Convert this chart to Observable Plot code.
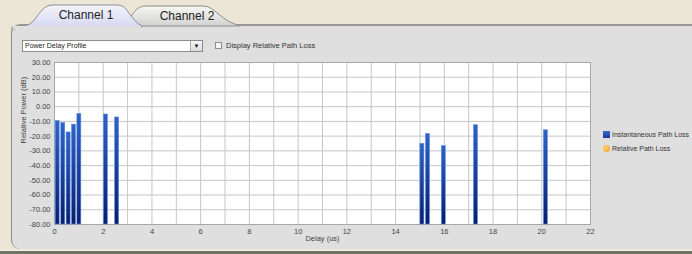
<!DOCTYPE html>
<html>
<head>
<meta charset="utf-8">
<script src="https://cdn.jsdelivr.net/npm/d3@7"></script>
<script src="https://cdn.jsdelivr.net/npm/@observablehq/plot@0.6"></script>
<style>
  html, body { margin: 0; padding: 0; }
  body { width: 692px; height: 254px; overflow: hidden; background: #ece6d6; font-family: Arial, "Liberation Sans", sans-serif; position: relative; }
  .abs { position: absolute; }
  #panel { left: 11px; top: 24px; width: 690px; height: 225px; background: #dfdfdf; border-top: 2px solid #9a9890; border-left: 1px solid #8c8c84; border-radius: 9px 0 0 9px; box-sizing: border-box; }
  #bottom { left: 0; top: 250px; width: 692px; height: 4px; background: #6e7562; border-top: 1px solid #f2f2ea; }
  #dd { left: 22px; top: 40px; width: 181px; height: 12px; background: #fff; border: 1px solid #8c8c8c; box-sizing: border-box; font-size: 7px; color: #222; line-height: 10px; padding-left: 2px; }
  #ddbtn { right: 0; top: 0; width: 11px; height: 10px; background: linear-gradient(#f6f6f6, #dcdcdc); border-left: 1px solid #aaa; font-size: 6px; text-align: center; line-height: 10px; color: #111; }
  #cb { left: 215px; top: 42px; width: 7px; height: 7px; border: 1px solid #8c8c8c; background: #f4f4f4; box-sizing: border-box; }
  #cbl { left: 226px; top: 40px; font-size: 7.5px; color: #333; line-height: 11px; }
  #chart { left: 0; top: 55px; }
  .leg { font-size: 7px; color: #333; line-height: 9px; }
</style>
</head>
<body>
<div id="panel" class="abs"></div>
<svg class="abs" style="left:0;top:0" width="260" height="30">
  <defs>
    <linearGradient id="t1" x1="0" y1="0" x2="0" y2="1"><stop offset="0" stop-color="#f4f4fc"/><stop offset="1" stop-color="#cdd0ee"/></linearGradient>
    <linearGradient id="t2" x1="0" y1="0" x2="0" y2="1"><stop offset="0" stop-color="#f6f6f4"/><stop offset="1" stop-color="#d2d2d0"/></linearGradient>
  </defs>
  <path d="M126,26 C132,14 136,6 146,6 L204,6 C214,6 222,22 240,25.5 L240,26 Z" fill="url(#t2)" stroke="#8c8c88" stroke-width="1"/>
  <path d="M12,33 C14,27 20,26 26,25.5 C36,24 40,5 52,5 L118,5 C128,5 130,20 142,26 L142,27 L12,27 Z" fill="url(#t1)" stroke="#8c8c98" stroke-width="1"/>
  <rect x="13" y="26" width="128" height="3" fill="#dfdfdf"/>
  <text x="86" y="19" text-anchor="middle" font-size="12" fill="#222" font-family="Arial, Liberation Sans, sans-serif">Channel 1</text>
  <text x="187" y="20" text-anchor="middle" font-size="12" fill="#222" font-family="Arial, Liberation Sans, sans-serif">Channel 2</text>
</svg>
<div id="dd" class="abs">Power Delay Profile<div id="ddbtn" class="abs">&#9660;</div></div>
<div id="cb" class="abs"></div>
<div id="cbl" class="abs">Display Relative Path Loss</div>
<div id="chart" class="abs"></div>
<div class="abs" style="left:603px;top:131px;width:7px;height:7px;background:linear-gradient(#3a6ad0,#1a3c9a);"></div>
<div class="abs leg" style="left:612px;top:130px;">Instantaneous Path Loss</div>
<div class="abs" style="left:603px;top:145px;width:7px;height:7px;border-radius:50%;background:radial-gradient(circle at 40% 40%,#ffd070,#f0a020);"></div>
<div class="abs leg" style="left:612px;top:144px;">Relative Path Loss</div>
<div id="bottom" class="abs"></div>
<script>
// Data
const delays = [0.13, 0.36, 0.58, 0.80, 1.02, 2.11, 2.57, 15.10, 15.33, 15.98, 17.30, 20.17];
const powers = [-9.7, -11.1, -17.5, -12.2, -4.9, -5.3, -7.3, -25.2, -18.5, -26.8, -12.6, -16.0];
const xTicks = [0, 2, 4, 6, 8, 10, 12, 14, 16, 18, 20, 22];
const xGrid = d3.range(0, 23);
const yTicks = [30, 20, 10, 0, -10, -20, -30, -40, -50, -60, -70, -80];
const xLabel = "Delay (us)";
const yLabel = "Relative Power (dB)";
const floor = -80;
const halfWidth = 0.082;

const data = delays.map((d, i) => ({delay: d, power: powers[i]}));

const chart = Plot.plot({
  width: 600,
  height: 190,
  marginLeft: 54,
  marginRight: 10,
  marginTop: 7,
  marginBottom: 21,
  style: {fontFamily: "Arial, 'Liberation Sans', sans-serif", fontSize: "7.5px", color: "#444", background: "transparent"},
  x: {domain: [0, 22], ticks: xTicks, tickSize: 0, tickPadding: 4, label: null, tickFormat: d => String(d)},
  y: {domain: [-80, 30], ticks: yTicks, tickSize: 0, tickPadding: 4, label: null, tickFormat: d => d.toFixed(2).replace("-", "-")},
  marks: [
    Plot.frame({fill: "#ffffff", stroke: "none"}),
    Plot.ruleX(xGrid, {stroke: "#c6c6c6", strokeWidth: 1}),
    Plot.ruleY(yTicks, {stroke: "#c6c6c6", strokeWidth: 1}),
    Plot.frame({stroke: "#a8a8a8"}),
    Plot.rectY(data, {x1: d => d.delay - halfWidth, x2: d => d.delay + halfWidth, y1: floor, y2: "power", fill: "url(#barGrad)", stroke: "#5b90e0", strokeWidth: 0.6, inset: 0}),
    Plot.text([xLabel], {frameAnchor: "bottom", dy: 16, fontSize: 7.5, fill: "#444"}),
    Plot.text([yLabel], {frameAnchor: "left", dx: -31, rotate: -90, fontSize: 7.5, fill: "#444"})
  ]
});

const ns = "http://www.w3.org/2000/svg";
const defs = document.createElementNS(ns, "defs");
defs.innerHTML = '<linearGradient id="barGrad" x1="0" y1="0" x2="0" y2="1">' +
  '<stop offset="0" stop-color="#2f62c8"/><stop offset="0.5" stop-color="#1c3e9c"/><stop offset="1" stop-color="#0b1c6a"/></linearGradient>';
chart.insertBefore(defs, chart.firstChild);
document.getElementById("chart").appendChild(chart);
</script>
</body>
</html>
